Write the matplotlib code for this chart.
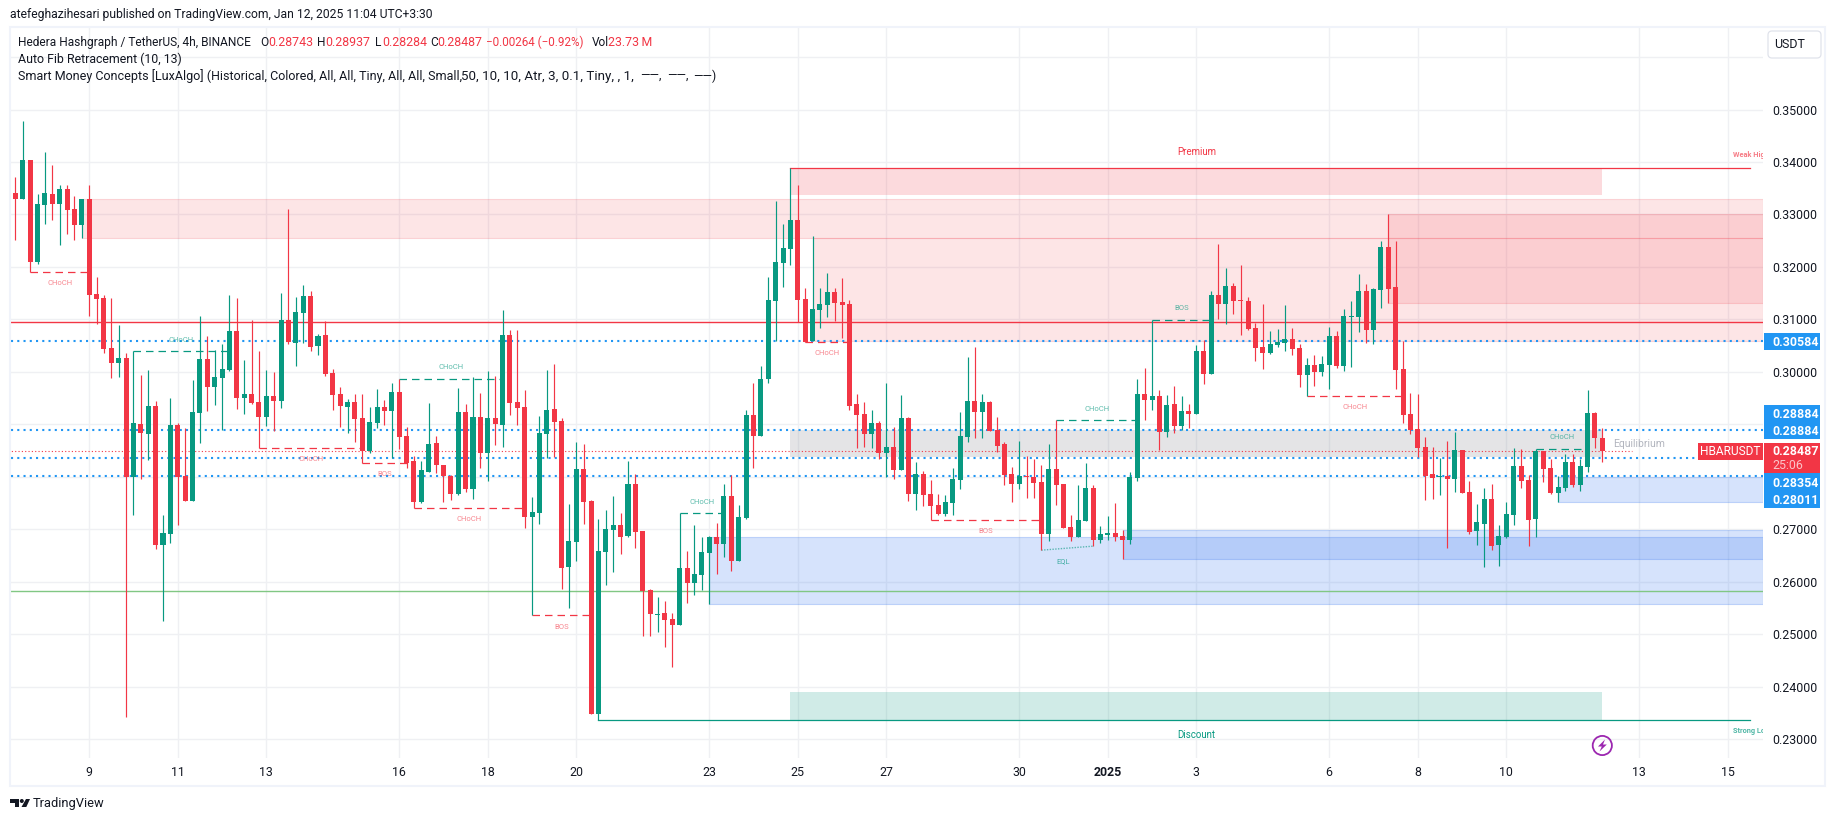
import matplotlib
matplotlib.use("Agg")
import matplotlib.pyplot as plt
from matplotlib.patches import Rectangle, Polygon, Circle, FancyBboxPatch
from matplotlib.transforms import Affine2D
from matplotlib.colors import to_rgba
import numpy as np

plt.rcParams['font.family'] = ['Roboto', 'DejaVu Sans']

# 4h candles, one list per field
opens = [
    .33907, .33405, .33291, .34034, .32096, .33176, .33386, .33195, .33481, .33100,
    .32795, .33291, .31480, .31404, .30450, .30164, .30260, .27998, .29002, .28811,
    .29345, .26695, .26905, .28983, .28010, .27534, .29211, .30241, .29713, .29879,
    .30031, .30774, .29497, .29574, .29421, .29135, .29535, .29440, .30984, .30546,
    .31118, .31442, .30489, .30698, .29974, .29574, .29326, .29421, .29116, .28487,
    .29021, .29326, .29250, .29612, .28773, .28296, .27515, .28087, .28640, .28220,
    .28010, .27667, .29230, .27763, .29135, .28449, .29116, .28983, .30698, .29421,
    .29326, .27229, .27305, .28811, .29288, .29059, .26276, .26752, .28144, .27534,
    .23474, .26562, .26981, .27076, .26867, .27858, .26962, .25837, .25361, .25399,
    .25285, .25170, .26257, .25971, .26124, .26543, .26848, .26714, .27629, .26390,
    .27210, .29173, .28773, .29860, .31346, .32071, .32338, .32890, .31384, .30584,
    .31175, .31270, .31518, .31327, .31289, .29383, .29192, .28811, .29021, .28449,
    .28563, .28125, .29116, .27667, .28049, .27667, .27458, .27286, .27496, .27934,
    .28754, .29440, .29230, .29421, .28887, .28620, .28049, .27858, .28010, .27991,
    .27896, .26905, .28144, .27858, .27038, .26848, .27153, .27782, .26791, .26886,
    .26924, .26867, .26791, .27972, .29574, .29459, .29535, .28849, .29383, .28964,
    .29250, .29192, .30393, .29955, .31461, .31289, .31632, .31365, .31346, .30832,
    .30469, .30355, .30508, .30546, .30622, .30450, .29936, .30126, .29993, .30126,
    .30679, .30107, .31041, .31041, .31537, .30794, .31556, .32376, .31613, .30050,
    .29192, .28906, .28563, .28049, .27991, .28010, .27953, .28506, .27706, .26962,
    .27096, .27572, .26695, .26848, .27267, .28201, .27934, .27191, .28487, .28163,
    .27686, .27782, .28277, .27839, .28182, .29211, .28743]
highs = [
    .33907, .33716, .34777, .34034, .33386, .34187, .33939, .33558, .33558, .33348,
    .33291, .33558, .31804, .31461, .31404, .30889, .30355, .30393, .29936, .30031,
    .29440, .27267, .29497, .29021, .28925, .29840, .31060, .30679, .30412, .30527,
    .31461, .31404, .30222, .30984, .30393, .30031, .29993, .31499, .33100, .31423,
    .31651, .31537, .30717, .30965, .30050, .29707, .29478, .29574, .29574, .29326,
    .29669, .29459, .29783, .29872, .28944, .28392, .28296, .29402, .28773, .28220,
    .28030, .29688, .29383, .29898, .29593, .30012, .29917, .31175, .30794, .30794,
    .29650, .27610, .29154, .30031, .30145, .29116, .27477, .28659, .28620, .27553,
    .27191, .27362, .27629, .27305, .28296, .28049, .26962, .25856, .25704, .25628,
    .25399, .27299, .26581, .27076, .26848, .26867, .27115, .27858, .28030, .27458,
    .29269, .29783, .30107, .31804, .33253, .32814, .33894, .33558, .31594, .32585,
    .31594, .31880, .31594, .31785, .31365, .29574, .29421, .29269, .29059, .29783,
    .28944, .29554, .29135, .28277, .28106, .27934, .27667, .27648, .28163, .29230,
    .30279, .30469, .29574, .29440, .29135, .28659, .28182, .28678, .28392, .28334,
    .28220, .28620, .29072, .27858, .27267, .27839, .28258, .27839, .27057, .27248,
    .27496, .26981, .28087, .29860, .30069, .30997, .29650, .29554, .29726, .29535,
    .29383, .30508, .30603, .31537, .32433, .31975, .31689, .32033, .31423, .30927,
    .31289, .30774, .30813, .31270, .30832, .30527, .30260, .30317, .30298, .30851,
    .30774, .31194, .31346, .31861, .31670, .31594, .32490, .33005, .32490, .30584,
    .29593, .29574, .28754, .28563, .28354, .28678, .28849, .28506, .27915, .27477,
    .27782, .27858, .27076, .27515, .28544, .28525, .28030, .28538, .28487, .28334,
    .28010, .28430, .28430, .28334, .29650, .29230, .28937]
lows = [
    .33399, .32509, .33291, .31905, .32052, .32814, .32890, .32414, .32624, .32509,
    .32547, .31060, .30908, .30355, .29879, .29898, .23423, .27267, .27953, .28315,
    .26619, .25247, .26733, .27076, .27534, .27534, .28640, .29250, .29364, .28887,
    .30012, .29288, .29192, .29383, .28551, .28964, .28868, .29307, .30527, .30107,
    .30546, .30393, .30317, .29917, .29269, .28944, .28830, .28659, .28271, .28449,
    .28925, .28983, .28354, .28525, .28163, .27413, .27496, .28087, .28068, .27515,
    .27553, .27648, .27706, .27572, .28163, .27915, .28601, .28563, .29173, .28983,
    .27019, .25355, .27096, .28354, .28373, .25856, .25494, .26390, .27096, .23474,
    .23353, .25933, .26181, .26524, .26848, .26638, .24961, .24961, .25037, .24751,
    .24370, .25170, .25590, .25742, .25837, .25577, .26142, .26466, .26200, .26390,
    .27191, .28163, .28773, .29783, .30584, .31613, .32033, .30940, .30565, .30584,
    .30832, .31041, .30965, .30641, .29269, .28544, .28563, .28544, .28334, .27991,
    .27953, .28125, .27534, .27362, .27439, .27178, .27267, .27248, .27267, .27763,
    .28659, .28735, .28735, .28868, .28468, .27839, .27515, .27763, .27591, .27591,
    .26600, .26771, .27458, .27019, .26771, .26848, .27153, .26676, .26733, .26791,
    .26771, .26435, .26714, .27915, .29078, .29269, .28506, .28754, .28830, .28887,
    .28925, .29192, .29764, .29955, .31003, .30908, .31099, .30698, .30794, .30203,
    .30050, .30336, .30469, .30393, .30317, .29707, .29548, .29726, .29917, .29669,
    .30069, .30012, .30088, .30755, .30546, .30527, .31213, .31308, .29669, .29021,
    .28811, .28373, .27553, .27572, .27648, .26638, .27706, .27686, .26905, .26695,
    .26276, .26600, .26295, .26829, .27076, .27782, .26676, .26848, .27896, .27667,
    .27515, .27724, .27801, .27724, .28087, .28544, .28284]
closes = [
    .33399, .33291, .34034, .32096, .33195, .33405, .33195, .33481, .33081, .32795,
    .33291, .31461, .31384, .30431, .30164, .30260, .27998, .29021, .28830, .29345,
    .26695, .26924, .28983, .27991, .27534, .29230, .30241, .29713, .29898, .30050,
    .30774, .29497, .29574, .29402, .29135, .29535, .29440, .30984, .30565, .31137,
    .31442, .30469, .30679, .29955, .29554, .29345, .29421, .29097, .28487, .29040,
    .29326, .29250, .29612, .28754, .28271, .27515, .28125, .28620, .28220, .28010,
    .27667, .29230, .27763, .29135, .28449, .29116, .29002, .30698, .29402, .29307,
    .27229, .27324, .28830, .29269, .29040, .26257, .26771, .28144, .27515, .23474,
    .26581, .27000, .27076, .26848, .27858, .26943, .25818, .25380, .25380, .25266,
    .25170, .26257, .25971, .26142, .26562, .26848, .26714, .27629, .26390, .27229,
    .29173, .28773, .29860, .31365, .32090, .32357, .32890, .31365, .30565, .31194,
    .31289, .31518, .31308, .31270, .29345, .29173, .28811, .29021, .28449, .28563,
    .28125, .29116, .27667, .28049, .27648, .27439, .27286, .27515, .27953, .28773,
    .29440, .29230, .29421, .28868, .28582, .28030, .27858, .28010, .27991, .27877,
    .26905, .28144, .27839, .27019, .26848, .27172, .27782, .26791, .26905, .26924,
    .26848, .26791, .27991, .29574, .29459, .29535, .28849, .29364, .28964, .29250,
    .29192, .30393, .29955, .31461, .31289, .31632, .31346, .31346, .30813, .30450,
    .30355, .30527, .30565, .30622, .30431, .29936, .30126, .29993, .30145, .30679,
    .30107, .31060, .31060, .31537, .30794, .31575, .32376, .31575, .30031, .29173,
    .28887, .28544, .28010, .27972, .28010, .27953, .28506, .27686, .26943, .27134,
    .27572, .26676, .26867, .27286, .28201, .27915, .27172, .28487, .28144, .27686,
    .27801, .28277, .27839, .28201, .29211, .28743, .28487]

# axis ticks
day_pos = [11, 23, 35, 53, 65, 77, 95, 107, 119, 137, 149, 161, 179, 191, 203, 221, 233]
day_labels = ['9', '11', '13', '16', '18', '20', '23', '25', '27', '30', '2025',
              '3', '6', '8', '10', '13', '15']
price_ticks = [.23, .24, .25, .26, .27, .28, .29, .30, .31, .32, .33, .34, .35, .36]
price_labels = ['0.23000', '0.24000', '0.25000', '0.26000', '0.27000', '', '',
                '0.30000', '0.31000', '0.32000', '0.33000', '0.34000', '0.35000', '']

# Smart Money order blocks: start candle, top, bottom
red_blocks = [(10, .33291, .32560), (109, .32560, .30584), (187, .33000, .31315)]
blue_blocks = [(95, .26860, .25583), (151, .26981, .26435), (210, .27992, .27521)]
# swing ranges: start, end, top, bottom
premium = (106, 216, .33894, .33367)
equilibrium = (106, 216, .28884, .28373)
discount = (106, 216, .23893, .23353)
# structure breaks: label, start, end, price
bull_breaks = [('CHoCH', 17, 30, .30393), ('CHoCH', 53, 67, .29872), ('CHoCH', 91, 97, .27299),
               ('CHoCH', 142, 153, .29072), ('BOS', 155, 163, .30997), ('CHoCH', 207, 214, .28538)]
bear_breaks = [('CHoCH', 3, 11, .31905), ('CHoCH', 34, 48, .28551), ('BOS', 48, 54, .28271),
               ('CHoCH', 55, 70, .27413), ('BOS', 71, 79, .25355), ('CHoCH', 108, 114, .30565),
               ('BOS', 125, 140, .27180), ('CHoCH', 176, 189, .29548)]
eql_x = [140, 147]
eql_y = [.26600, .26676]
# fib levels and other horizontals
fib_levels = [.30584, .28884, .28354, .28011]
red_level = .30940
green_level = .25812
last_close = .28487

GREEN = '#089981'
RED = '#F23645'
BLUE = '#2196F3'
ZONE_BLUE = '#3273F0'
FS = 8.9

fig = plt.figure(figsize=(18.35, 8.21), dpi=100, facecolor='white')
W, H = 1835, 821
# pixel coordinates, y going down, for everything around the pane
px = Affine2D().scale(1, -1).translate(0, H)

L, R, T, B = 10.5, 1763, 28, 758
ax = fig.add_axes([L / W, 1 - B / H, (R - L) / W, (B - T) / H])
ax.set_xlim(0.339, 237.77)
ax.set_ylim(0.22638, 0.36554)
for s in ax.spines.values():
    s.set_visible(False)
ax.set_axisbelow(True)
ax.grid(True, color='#EFF0F3', lw=1.0, zorder=0)
ax.yaxis.tick_right()
ax.set_yticks(price_ticks)
ax.set_yticklabels(price_labels, fontsize=FS, color='#131722')
ax.set_xticks(day_pos)
ax.set_xticklabels(day_labels, fontsize=FS, color='#131722')
ax.tick_params(axis='both', length=0)
ax.tick_params(axis='y', pad=6.5)
ax.tick_params(axis='x', pad=5.5)
for lab in ax.get_xticklabels():
    if lab.get_text() == '2025':
        lab.set_fontweight('bold')

xmax = ax.get_xlim()[1]


def zone(x0, x1, top, bottom, color, a=0.13, edge=0.17):
    ax.add_patch(Rectangle((x0, bottom), x1 - x0, top - bottom, facecolor=to_rgba(color, a),
                           edgecolor=to_rgba(color, edge), lw=0.8, zorder=1))


for start, top, bottom in red_blocks:
    zone(start, xmax, top, bottom, RED)
for start, top, bottom in blue_blocks:
    zone(start, xmax, top, bottom, ZONE_BLUE, a=0.2, edge=0.25)
zone(premium[0], premium[1], premium[2], premium[3], RED, a=0.18, edge=0)
zone(equilibrium[0], equilibrium[1], equilibrium[2], equilibrium[3], '#787B86', a=0.2, edge=0)
zone(discount[0], discount[1], discount[2], discount[3], GREEN, a=0.19, edge=0)

ax.axhline(red_level, color=RED, lw=1.0, zorder=2)
ax.axhline(green_level, color='#81C784', lw=1.0, zorder=2)
for lv in fib_levels:
    ax.axhline(lv, color=BLUE, lw=1.5, ls=(0, (1, 2)), zorder=2)
ax.plot([0, 220], [last_close, last_close], color=RED, lw=0.8, ls=(0, (1, 2)), zorder=2)

# premium / discount lines run past the last candle
ax.plot([premium[0], 236], [premium[2], premium[2]], color=RED, lw=0.9, zorder=2)
ax.plot([discount[0] - 26, 236], [discount[3], discount[3]], color=GREEN, lw=0.9, zorder=2)

for name, a, b, y in bull_breaks:
    ax.plot([a, b], [y, y], color=GREEN, lw=0.9, ls=(0, (6, 4)), zorder=2.5)
    ax.annotate(name, ((a + b) / 2, y), xytext=(0, 8.4), textcoords='offset points', ha='center',
                va='center', fontsize=5.5, color=GREEN, alpha=0.65, zorder=4)
for name, a, b, y in bear_breaks:
    ax.plot([a, b], [y, y], color=RED, lw=0.9, ls=(0, (6, 4)), zorder=2.5)
    ax.annotate(name, ((a + b) / 2, y), xytext=(0, -8), textcoords='offset points', ha='center',
                va='center', fontsize=5.5, color=RED, alpha=0.6, zorder=4)
ax.plot(eql_x, eql_y, color=GREEN, lw=1.0, ls=(0, (1, 1)), alpha=0.6, zorder=2.5)
ax.annotate('EQL', (143, eql_y[0]), xytext=(0, -8), textcoords='offset points', ha='center',
            va='center', fontsize=5.5, color=GREEN, alpha=0.7, zorder=4)

# candles
x = np.arange(len(opens))
o, h, l, c = map(np.array, (opens, highs, lows, closes))
cols = np.where(c >= o, GREEN, RED)
ax.vlines(x, l, h, colors=cols, lw=0.85, zorder=3)
ax.bar(x, np.abs(c - o), bottom=np.minimum(o, c), width=0.68, color=cols, lw=0, zorder=3.1)

ax.text(161, .3419, 'Premium', color=RED, fontsize=7, ha='center', va='center', zorder=4)
ax.text(161, .23077, 'Discount', color=GREEN, fontsize=7, ha='center', va='center', zorder=4)
ax.text(221, .28626, 'Equilibrium', color='#B2B5BE', fontsize=7.5, ha='center', va='center', zorder=4)
ax.text(233.7, .34133, 'Weak High', color=RED, alpha=0.65, fontsize=5.3, fontweight='bold',
        va='center', clip_on=True, zorder=4)
ax.text(233.7, .23153, 'Strong Low', color=GREEN, alpha=0.7, fontsize=5.3, fontweight='bold',
        va='center', clip_on=True, zorder=4)

# frame round the chart
fig.add_artist(Rectangle((10, 27), 1815, 758.5, fill=False, edgecolor='#F0F3FA', lw=1.5, transform=px))


def badge(x0, y0, x1, y1, color):
    fig.add_artist(Rectangle((x0, y0), x1 - x0, y1 - y0, facecolor=color, lw=0, transform=px, zorder=5))


def label(xp, yp, s, color='#131722', size=FS, **kw):
    kw.setdefault('va', 'center')
    t = fig.text(xp, yp, s, color=color, fontsize=size, transform=px, **kw)
    t.set_zorder(6)
    return t


badge(1764, 333, 1820, 350, BLUE)
label(1772, 342, '0.30584', 'white', fontweight='bold')
badge(1764, 405, 1820, 439, BLUE)
label(1772, 414, '0.28884', 'white', fontweight='bold')
label(1772, 431, '0.28884', 'white', fontweight='bold')
badge(1764, 473, 1820, 508, BLUE)
label(1772, 483, '0.28354', 'white', fontweight='bold')
label(1772, 500, '0.28011', 'white', fontweight='bold')
badge(1764, 443, 1820, 473, RED)
label(1772, 451.5, '0.28487', 'white', fontweight='bold')
label(1772, 465.5, '25:06', '#FBC4C9')
badge(1698, 443, 1763, 460, RED)
label(1730.5, 451.5, 'HBARUSDT', 'white', ha='center', size=8.6)

# USDT button
fig.add_artist(FancyBboxPatch((1770, 33), 49, 23, boxstyle='round,pad=2,rounding_size=4', facecolor='white',
                              edgecolor='#E0E3EB', lw=0.9, transform=px, zorder=5))
label(1790, 44.5, 'USDT', ha='center')

# legend lines
label(10, 14.5, 'atefeghazihesari published on TradingView.com, Jan 12, 2025 11:04 UTC+3:30', size=8.7)
label(18, 42, 'Hedera Hashgraph / TetherUS, 4h, BINANCE', size=8.6)
for xp, s in [(260, 'O'), (317.5, 'H'), (375, 'L'), (430, 'C'), (592, 'Vol')]:
    label(xp, 42, s, size=8.6)
for xp, s in [(268.5, '0.28743'), (325.5, '0.28937'), (382, '0.28284'), (437.5, '0.28487'),
              (607.5, '23.73\u2009M')]:
    label(xp, 42, s, RED)
label(486.5, 42, '\u22120.00264 (\u22120.92%)', RED, size=8.4)
label(18, 59, 'Auto Fib Retracement (10, 13)', size=8.9)
label(18, 76, 'Smart Money Concepts [LuxAlgo] (Historical, Colored, All, All, Tiny, All, All, Small,', size=9.0)
label(461, 76, '50, 10, 10, Atr, 3, 0.1, Tiny, , 1,', size=9.6)
for xp in (640, 667, 693):
    label(xp, 76, '\u2014\u2014,' if xp < 693 else '\u2014\u2014)', size=8.75)

# TradingView logo
logo = '#131722'
fig.add_artist(Polygon([(10, 799), (19, 799), (19, 807), (15, 807), (15, 803), (10, 803)],
                       facecolor=logo, lw=0, transform=px))
fig.add_artist(Circle((21.8, 801), 2.0, facecolor=logo, lw=0, transform=px))
fig.add_artist(Polygon([(26, 799), (30, 799), (26.3, 807), (21.5, 807)], facecolor=logo, lw=0, transform=px))
label(33, 803, 'TradingView', size=9.3)

# lightning mark
purple = '#9C27B0'
fig.add_artist(Circle((1602.3, 745.5), 9.6, fill=False, edgecolor=purple, lw=1.3, transform=px, zorder=5))
fig.add_artist(Polygon([(1605, 739.5), (1598, 746.5), (1601.8, 746.5), (1599.5, 751.5), (1606.8, 744.5),
                        (1603, 744.5)], facecolor=purple, lw=0, transform=px, zorder=5))

fig.savefig('out.png', dpi=100, facecolor='white')
